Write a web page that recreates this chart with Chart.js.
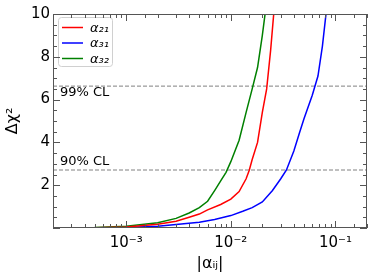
<!DOCTYPE html>
<html>
<head>
<meta charset="utf-8">
<script src="https://cdn.jsdelivr.net/npm/chart.js@4.4.0/dist/chart.umd.min.js"></script>
<style>
  html, body { margin: 0; padding: 0; background: #fff; }
</style>
</head>
<body>
<canvas id="chart" width="374" height="280"></canvas>
<script>
// values (|alpha_ij| vs delta chi^2)
const alpha21X = [0.0002, 0.0005, 0.001, 0.002, 0.003, 0.004, 0.005, 0.006, 0.008, 0.01, 0.012, 0.014, 0.015, 0.016, 0.018, 0.020, 0.022, 0.024, 0.026];
const alpha21Y = [0, 0.01, 0.05, 0.17, 0.32, 0.5, 0.65, 0.85, 1.1, 1.35, 1.7, 2.3, 2.7, 3.2, 4.0, 5.4, 6.5, 8.3, 10.3];

const alpha31X = [0.0002, 0.0005, 0.001, 0.002, 0.003, 0.005, 0.007, 0.01, 0.013, 0.016, 0.02, 0.025, 0.03, 0.034, 0.04, 0.045, 0.05, 0.06, 0.068, 0.075, 0.082];
const alpha31Y = [0, 0.005, 0.02, 0.08, 0.16, 0.27, 0.4, 0.58, 0.78, 0.95, 1.22, 1.75, 2.3, 2.71, 3.6, 4.4, 5.1, 6.2, 7.1, 8.5, 10.2];

const alpha32X = [0.0002, 0.0005, 0.001, 0.002, 0.003, 0.004, 0.005, 0.006, 0.007, 0.008, 0.009, 0.01, 0.012, 0.014, 0.016, 0.018, 0.020, 0.0215];
const alpha32Y = [0, 0.02, 0.08, 0.25, 0.45, 0.7, 0.95, 1.25, 1.75, 2.2, 2.6, 3.1, 4.1, 5.4, 6.5, 7.5, 9.0, 10.2];

const seriesLabels = ['α₂₁', 'α₃₁', 'α₃₂'];
const seriesColors = ['#ff0000', '#0000ff', '#008000'];

const clValues = [2.71, 6.63];
const clLabels = ['90% CL', '99% CL'];

const xMin = 0.0002, xMax = 0.2;
const yMin = 0, yMax = 10;

function pairs(xs, ys) {
    return xs.map((x, i) => ({ x: x, y: ys[i] }));
}

function superscript(n) {
    const map = { '-': '⁻', '0': '⁰', '1': '¹', '2': '²', '3': '³', '4': '⁴', '5': '⁵', '6': '⁶', '7': '⁷', '8': '⁸', '9': '⁹' };
    return String(n).split('').map(c => map[c]).join('');
}

function isPow10(v) {
    const l = Math.log10(v);
    return Math.abs(l - Math.round(l)) < 1e-9;
}

const curveData = [pairs(alpha21X, alpha21Y), pairs(alpha31X, alpha31Y), pairs(alpha32X, alpha32Y)];

const datasets = curveData.map((d, i) => ({
    label: seriesLabels[i],
    data: d,
    borderColor: seriesColors[i],
    borderWidth: 1.5,
    pointRadius: 0,
    tension: 0,
    fill: false
}));

// the two confidence level lines
clValues.forEach((v, i) => {
    datasets.push({
        label: clLabels[i],
        data: [{ x: xMin, y: v }, { x: xMax, y: v }],
        borderColor: '#808080',
        borderWidth: 1,
        borderDash: [4, 2],
        pointRadius: 0,
        fill: false
    });
});

// inward ticks on all four sides plus the box round the plot
const frameTicks = {
    id: 'frameTicks',
    afterDraw(chart) {
        const ctx = chart.ctx;
        const a = chart.chartArea;
        const xs = chart.scales.x, ys = chart.scales.y;
        ctx.save();
        ctx.strokeStyle = '#555';
        ctx.lineWidth = 1;
        ctx.beginPath();
        xs.ticks.forEach(t => {
            const p = Math.round(xs.getPixelForValue(t.value)) + 0.5;
            const len = isPow10(t.value) ? 7 : 4;
            ctx.moveTo(p, a.bottom); ctx.lineTo(p, a.bottom - len);
            ctx.moveTo(p, a.top); ctx.lineTo(p, a.top + len);
        });
        ys.ticks.forEach(t => {
            const p = Math.round(ys.getPixelForValue(t.value)) + 0.5;
            const len = (t.value % 2 === 0) ? 7 : 4;
            ctx.moveTo(a.left, p); ctx.lineTo(a.left + len, p);
            ctx.moveTo(a.right, p); ctx.lineTo(a.right - len, p);
        });
        ctx.stroke();
        ctx.strokeRect(Math.round(a.left) + 0.5, Math.round(a.top) + 0.5,
            Math.round(a.width) - 1, Math.round(a.height) - 1);
        ctx.restore();
    }
};

// CL text next to the dashed lines
const clText = {
    id: 'clText',
    afterDatasetsDraw(chart) {
        const ctx = chart.ctx;
        const a = chart.chartArea;
        const ys = chart.scales.y;
        ctx.save();
        ctx.fillStyle = '#000';
        ctx.font = '13px "DejaVu Sans"';
        ctx.textAlign = 'left';
        ctx.textBaseline = 'middle';
        clValues.forEach((v, i) => {
            const p = ys.getPixelForValue(v);
            const dy = i === 0 ? -8.5 : 7;
            ctx.fillText(clLabels[i], a.left + 7, p + dy);
        });
        ctx.restore();
    }
};

// legend box in the upper left corner of the plot
const legendBox = {
    id: 'legendBox',
    afterDatasetsDraw(chart) {
        const ctx = chart.ctx;
        const a = chart.chartArea;
        const x0 = a.left + 5, y0 = a.top + 3, w = 54, h = 49;
        ctx.save();
        ctx.beginPath();
        ctx.roundRect(x0 + 0.5, y0 + 0.5, w, h, 3);
        ctx.fillStyle = 'rgba(255,255,255,0.8)';
        ctx.fill();
        ctx.strokeStyle = '#d0d0d0';
        ctx.lineWidth = 1;
        ctx.stroke();
        ctx.font = 'italic 13px "DejaVu Sans"';
        ctx.textBaseline = 'middle';
        ctx.textAlign = 'left';
        for (let i = 0; i < seriesLabels.length; i++) {
            const ds = chart.data.datasets[i];
            const y = y0 + 10.5 + i * 15.5;
            ctx.strokeStyle = ds.borderColor;
            ctx.lineWidth = 1.5;
            ctx.beginPath();
            ctx.moveTo(x0 + 4, y);
            ctx.lineTo(x0 + 25, y);
            ctx.stroke();
            ctx.fillStyle = '#000';
            ctx.fillText(ds.label, x0 + 32, y + 1);
        }
        ctx.restore();
    }
};

const ctx = document.getElementById('chart').getContext('2d');
const myChart = new Chart(ctx, {
    type: 'line',
    data: { datasets: datasets },
    options: {
        responsive: false,
        animation: false,
        layout: { padding: { left: 0, top: 14, right: 7, bottom: 3 } },
        plugins: {
            legend: { display: false },
            tooltip: { enabled: false }
        },
        scales: {
            x: {
                type: 'logarithmic',
                min: xMin,
                max: xMax,
                grid: { display: false, drawTicks: false },
                border: { display: false },
                ticks: {
                    autoSkip: false,
                    maxRotation: 0,
                    padding: 6,
                    color: '#000',
                    font: { family: 'DejaVu Sans', size: 15 },
                    callback: (v) => isPow10(v) ? '10' + superscript(Math.round(Math.log10(v))) : ''
                },
                title: {
                    display: true,
                    text: '|αᵢⱼ|',
                    color: '#000',
                    font: { family: 'DejaVu Sans', size: 16 },
                    padding: { top: 0, bottom: 4 }
                },
                afterFit: (scale) => { scale.height = 49; }
            },
            y: {
                type: 'linear',
                min: yMin,
                max: yMax,
                grid: { display: false, drawTicks: false },
                border: { display: false },
                ticks: {
                    stepSize: 0.5,
                    autoSkip: false,
                    padding: 3,
                    color: '#000',
                    font: { family: 'DejaVu Sans', size: 15 },
                    callback: (v) => (v > 0 && v % 2 === 0) ? String(v) : ''
                },
                title: {
                    display: true,
                    text: 'Δχ²',
                    color: '#000',
                    font: { family: 'DejaVu Sans', size: 16 },
                    padding: { top: 3, bottom: 0 }
                },
                afterFit: (scale) => { scale.width = 53; }
            }
        }
    },
    plugins: [legendBox, clText, frameTicks]
});
</script>
</body>
</html>
